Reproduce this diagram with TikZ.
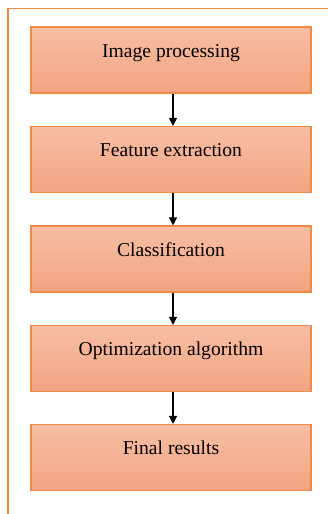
\documentclass[tikz,border=0pt]{standalone}
\usepackage{fontspec}
\setmainfont{Liberation Serif}
\newfontfamily\lblfont{Liberation Serif}
\usetikzlibrary{arrows.meta}
\definecolor{boxtop}{HTML}{F7BEA3}
\definecolor{boxbot}{HTML}{F3A482}
\definecolor{boxedge}{HTML}{F08A45}
\definecolor{framecol}{HTML}{F08A45}
\tikzset{
  stepbox/.style={draw=boxedge, line width=1.1pt, top color=boxtop, bottom color=boxbot,
    minimum width=280pt, minimum height=66pt, inner sep=0pt},
  lbl/.style={font=\lblfont\fontsize{19.6}{23}\selectfont, text=black, anchor=base, inner sep=0pt},
  arr/.style={line width=1.2pt, -{Triangle[width=8pt,length=8pt]}},
  framestyle/.style={draw=framecol, line width=1.3pt}
}
\begin{document}
\begin{tikzpicture}[x=1pt,y=-1pt]
\useasboundingbox (0,0) rectangle (328,514);
\fill[white] (0,0) rectangle (328,514);
\draw[framestyle] (8,514) -- (8,8.5) -- (328,8.5);
\node[stepbox] (b1) at (171,60) {};
\node[stepbox] (b2) at (171,159.5) {};
\node[stepbox] (b3) at (171,259) {};
\node[stepbox] (b4) at (171,358.5) {};
\node[stepbox] (b5) at (171,457.5) {};
\node[lbl] (t1) at ([yshift=-31pt]b1.north) {Image processing};
\node[lbl] (t2) at ([yshift=-31pt]b2.north) {Feature extraction};
\node[lbl] (t3) at ([yshift=-31pt]b3.north) {Classification};
\node[lbl] (t4) at ([yshift=-31pt]b4.north) {Optimization algorithm};
\node[lbl] (t5) at ([yshift=-31pt]b5.north) {Final results};
\draw[arr] ([xshift=2pt]b1.south) -- ([xshift=2pt]b2.north);
\draw[arr] ([xshift=2pt]b2.south) -- ([xshift=2pt]b3.north);
\draw[arr] ([xshift=2pt]b3.south) -- ([xshift=2pt]b4.north);
\draw[arr] ([xshift=2pt]b4.south) -- ([xshift=2pt]b5.north);
\end{tikzpicture}
\end{document}
